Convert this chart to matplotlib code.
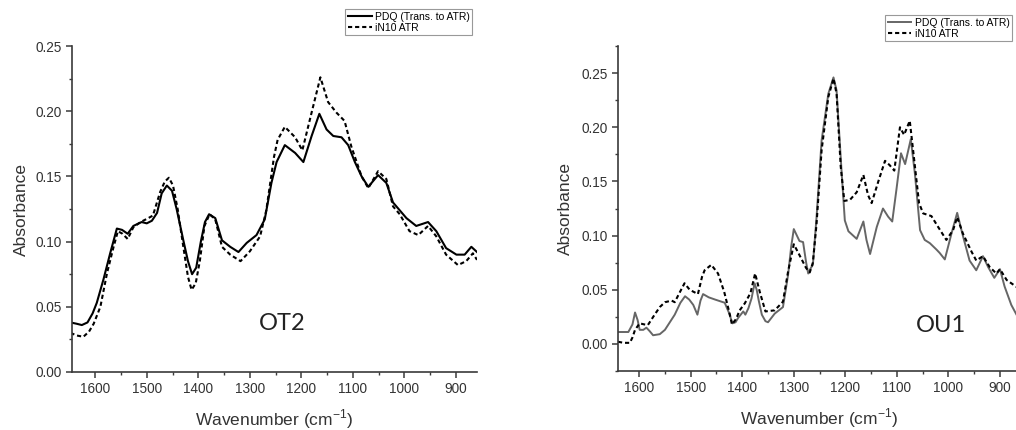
import matplotlib
matplotlib.use("Agg")
import matplotlib.pyplot as plt
from matplotlib.ticker import MultipleLocator, FormatStrFormatter

# OT2 panel (left)
ot2_wn_pdq = [1648, 1636, 1626, 1615, 1605, 1597, 1584, 1571, 1558, 1548,
              1537, 1526, 1510, 1500, 1490, 1480, 1471, 1461, 1451, 1442,
              1429, 1420, 1412, 1404, 1395, 1387, 1379, 1367, 1354, 1338,
              1322, 1306, 1287, 1271, 1258, 1248, 1232, 1212, 1196, 1180,
              1165, 1151, 1138, 1122, 1109, 1096, 1083, 1070, 1051, 1035,
              1022, 1009, 996, 977, 954, 938, 919, 899, 883, 870, 859]
ot2_pdq = [0.038, 0.037, 0.036, 0.038, 0.045, 0.053, 0.071, 0.091, 0.110, 0.109,
           0.106, 0.112, 0.115, 0.114, 0.116, 0.122, 0.137, 0.143, 0.139, 0.125,
           0.101, 0.085, 0.075, 0.080, 0.100, 0.115, 0.121, 0.118, 0.101, 0.096,
           0.092, 0.099, 0.105, 0.117, 0.145, 0.161, 0.174, 0.168, 0.161, 0.181,
           0.198, 0.186, 0.181, 0.180, 0.174, 0.161, 0.150, 0.142, 0.151, 0.145,
           0.130, 0.124, 0.118, 0.112, 0.115, 0.108, 0.095, 0.090, 0.090, 0.096, 0.092]

ot2_wn_in10 = [1648, 1636, 1623, 1612, 1603, 1590, 1577, 1565, 1556, 1547,
               1537, 1526, 1512, 1497, 1488, 1474, 1465, 1457, 1449, 1440,
               1429, 1420, 1413, 1405, 1397, 1388, 1378, 1367, 1354, 1338,
               1318, 1300, 1280, 1268, 1253, 1246, 1232, 1212, 1198, 1180,
               1163, 1148, 1132, 1116, 1103, 1083, 1070, 1051, 1035, 1022,
               1009, 990, 973, 954, 938, 919, 896, 880, 867, 859]
ot2_in10 = [0.030, 0.028, 0.027, 0.031, 0.037, 0.050, 0.076, 0.095, 0.108, 0.106,
            0.102, 0.111, 0.115, 0.118, 0.120, 0.138, 0.146, 0.149, 0.143, 0.125,
            0.096, 0.073, 0.063, 0.068, 0.085, 0.112, 0.121, 0.117, 0.096, 0.090,
            0.085, 0.0925, 0.104, 0.124, 0.165, 0.178, 0.188, 0.180, 0.170, 0.199,
            0.226, 0.207, 0.199, 0.1925, 0.173, 0.150, 0.141, 0.154, 0.148, 0.127,
            0.121, 0.108, 0.105, 0.112, 0.104, 0.090, 0.082, 0.085, 0.091, 0.086]

# OU1 panel (right)
ou1_wn_pdq = [1641, 1621, 1613, 1608, 1603, 1599, 1592, 1586, 1580, 1573,
              1560, 1550, 1531, 1520, 1511, 1503, 1495, 1487, 1481, 1476,
              1465, 1453, 1434, 1426, 1419, 1413, 1408, 1398, 1394, 1388,
              1382, 1376, 1372, 1368, 1362, 1355, 1350, 1337, 1321, 1311,
              1305, 1300, 1294, 1289, 1282, 1276, 1272, 1267, 1263, 1256,
              1246, 1233, 1223, 1217, 1207, 1201, 1194, 1178, 1165, 1159,
              1152, 1139, 1127, 1117, 1109, 1101, 1092, 1084, 1073, 1065,
              1055, 1046, 1036, 1023, 1017, 1007, 994, 983, 972, 959,
              946, 933, 923, 911, 900, 891, 878, 869, 860]
ou1_pdq = [0.011, 0.011, 0.018, 0.029, 0.022, 0.013, 0.013, 0.015, 0.012, 0.008,
           0.009, 0.013, 0.027, 0.038, 0.044, 0.041, 0.036, 0.027, 0.040, 0.046,
           0.043, 0.041, 0.038, 0.029, 0.019, 0.020, 0.024, 0.030, 0.027, 0.033,
           0.042, 0.056, 0.050, 0.040, 0.027, 0.021, 0.020, 0.028, 0.034, 0.064,
           0.090, 0.106, 0.100, 0.095, 0.094, 0.075, 0.065, 0.070, 0.073, 0.116,
           0.188, 0.231, 0.246, 0.234, 0.157, 0.114, 0.104, 0.097, 0.113, 0.096,
           0.083, 0.108, 0.125, 0.1175, 0.113, 0.142, 0.176, 0.166, 0.189, 0.157,
           0.105, 0.096, 0.093, 0.087, 0.084, 0.078, 0.102, 0.121, 0.100, 0.077,
           0.068, 0.081, 0.071, 0.061, 0.069, 0.053, 0.036, 0.028, 0.020]

ou1_wn_in10 = [1641, 1630, 1618, 1613, 1608, 1599, 1590, 1583, 1570, 1560,
               1550, 1537, 1531, 1523, 1512, 1502, 1486, 1478, 1473, 1460,
               1447, 1435, 1424, 1420, 1412, 1405, 1395, 1384, 1375, 1366,
               1355, 1337, 1321, 1311, 1300, 1289, 1276, 1269, 1263, 1256,
               1246, 1233, 1223, 1217, 1209, 1202, 1191, 1178, 1165, 1156,
               1149, 1136, 1123, 1114, 1105, 1094, 1086, 1075, 1065, 1057,
               1049, 1033, 1020, 1004, 991, 983, 972, 955, 946, 933,
               920, 907, 900, 887, 869, 860]
ou1_in10 = [0.002, 0.001, 0.001, 0.006, 0.013, 0.019, 0.018, 0.0175, 0.027, 0.034,
            0.0385, 0.040, 0.0385, 0.046, 0.056, 0.050, 0.046, 0.062, 0.068, 0.073,
            0.065, 0.048, 0.027, 0.018, 0.023, 0.031, 0.0375, 0.047, 0.065, 0.048,
            0.030, 0.031, 0.039, 0.067, 0.092, 0.082, 0.070, 0.066, 0.075, 0.110,
            0.179, 0.228, 0.245, 0.231, 0.164, 0.132, 0.133, 0.140, 0.156, 0.1375,
            0.130, 0.150, 0.169, 0.165, 0.160, 0.200, 0.193, 0.206, 0.164, 0.130,
            0.1205, 0.118, 0.108, 0.096, 0.105, 0.117, 0.102, 0.085, 0.077, 0.081,
            0.071, 0.065, 0.069, 0.059, 0.053, 0.050]

labels = ['PDQ (Trans. to ATR)', 'iN10 ATR']

plt.rcParams['font.family'] = ['Liberation Sans', 'DejaVu Sans']
plt.rcParams['mathtext.fontset'] = 'custom'
plt.rcParams['mathtext.rm'] = 'Liberation Sans'
plt.rcParams['axes.unicode_minus'] = False
axis_col = '#3a3a3a'
dash = (0, (2.0, 1.4))

fig = plt.figure(figsize=(10.16, 4.30), dpi=100)
ax1 = fig.add_axes([0.0709, 0.1349, 0.3986, 0.7581])
ax2 = fig.add_axes([0.6083, 0.1372, 0.3957, 0.7558])


def style(ax, xlim, ylim, ylab_x):
    ax.set_xlim(*xlim)
    ax.set_ylim(*ylim)
    for s in ['top', 'right']:
        ax.spines[s].set_visible(False)
    for s in ['left', 'bottom']:
        ax.spines[s].set_color(axis_col)
        ax.spines[s].set_linewidth(1.2)
    ax.xaxis.set_major_locator(MultipleLocator(100))
    ax.xaxis.set_minor_locator(MultipleLocator(50))
    ax.yaxis.set_major_locator(MultipleLocator(0.05))
    ax.yaxis.set_minor_locator(MultipleLocator(0.025))
    ax.yaxis.set_major_formatter(FormatStrFormatter('%.2f'))
    ax.tick_params(which='major', direction='out', length=4, width=1.1,
                   color=axis_col, labelsize=9.8, labelcolor='#333333')
    ax.tick_params(which='minor', direction='out', length=2.5, width=1.0,
                   color=axis_col)
    ax.set_xlabel('Wavenumber (cm$^{\\mathrm{-1}}$)', fontsize=12.5, color='#333333')
    ax.set_ylabel('Absorbance', fontsize=12.5, color='#333333')
    ax.xaxis.set_label_coords(0.5, -0.108)
    ax.yaxis.set_label_coords(ylab_x, 0.5)


style(ax1, (1645, 859), (0.0, 0.25), -0.106)
ax1.plot(ot2_wn_pdq, ot2_pdq, color='black', lw=1.5, label=labels[0])
ax1.plot(ot2_wn_in10, ot2_in10, color='black', lw=1.5, ls=dash, label=labels[1])
ax1.text(1237, 0.037, 'OT2', fontsize=17, family=['Lato', 'DejaVu Sans'],
         ha='center', va='center', color='#222222')

style(ax2, (1641, 861), (-0.025, 0.275), -0.113)
ax2.plot(ou1_wn_pdq, ou1_pdq, color='#666666', lw=1.4, label=labels[0])
ax2.plot(ou1_wn_in10, ou1_in10, color='black', lw=1.5, ls=dash, label=labels[1])
ax2.text(1015, 0.0172, 'OU1', fontsize=17, family=['Lato', 'DejaVu Sans'],
         ha='center', va='center', color='#222222')

for ax, anchor in [(ax1, (0.3396, 0.979)), (ax2, (0.871, 0.965))]:
    leg = ax.legend(loc='upper left', bbox_to_anchor=anchor,
                    bbox_transform=fig.transFigure, fontsize=7.5,
                    handlelength=2.3, handletextpad=0.3, borderpad=0.25,
                    labelspacing=0.1, borderaxespad=0, fancybox=False,
                    framealpha=1)
    leg.get_frame().set_edgecolor('#999999')
    leg.get_frame().set_linewidth(0.8)

fig.savefig('out.png', dpi=100)
